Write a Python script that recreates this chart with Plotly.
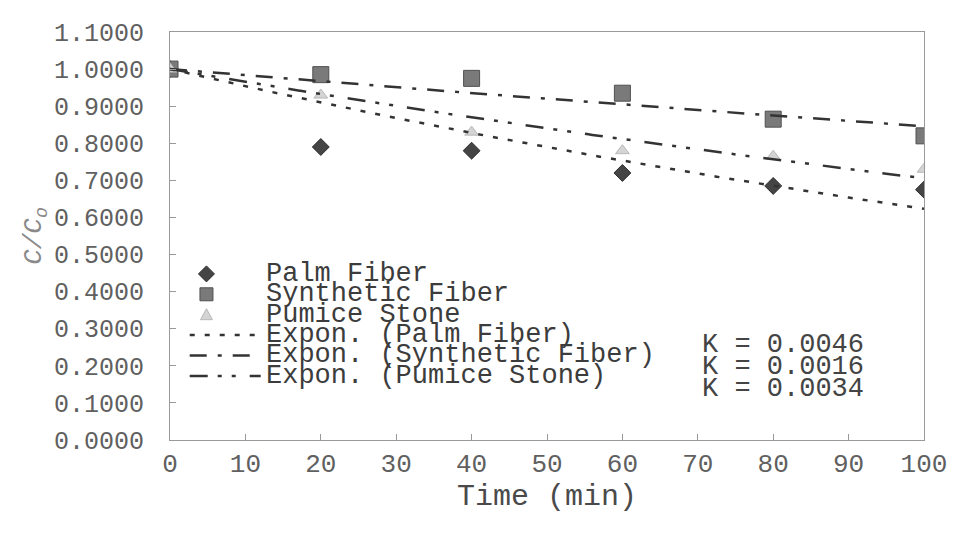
import numpy as np
import plotly.graph_objects as go

# ---------------- data ----------------
time_min = [0, 20, 40, 60, 80, 100]
palm_fiber = [1.0, 0.79, 0.78, 0.72, 0.685, 0.675]
synthetic_fiber = [1.0, 0.985, 0.975, 0.935, 0.865, 0.82]
pumice_stone = [1.0, 0.93, 0.83, 0.78, 0.765, 0.73]

series_names = ["Palm Fiber", "Synthetic Fiber", "Pumice Stone"]
trend_names = ["Expon. (Palm Fiber)", "Expon. (Synthetic Fiber)", "Expon. (Pumice Stone)"]
k_labels = ["K = 0.0046", "K = 0.0016", "K = 0.0034"]

x_ticks = [0, 10, 20, 30, 40, 50, 60, 70, 80, 90, 100]
y_ticks = [0.0, 0.1, 0.2, 0.3, 0.4, 0.5, 0.6, 0.7, 0.8, 0.9, 1.0, 1.1]
y_tick_labels = ["%.4f" % v for v in y_ticks]

# ---------------- styles ----------------
FONT = "Liberation Mono, Courier New, monospace"
LINE_COLOR = "#333333"
marker_styles = [
    dict(symbol="diamond", size=13, color="#454545", line=dict(color="#2e2e2e", width=1)),
    dict(symbol="square", size=16, color="#7a7a7a", line=dict(color="#505050", width=1)),
    dict(symbol="triangle-up", size=12, color="#d4d4d4", line=dict(color="#b8b8b8", width=1)),
]
dash_styles = ["5px,10px", "17px,11px,4px,11px", "18px,10px,4px,10px,4px,14px"]
key_paths = [
    "M 0,8 L 8,0 L 0,-8 L -8,0 Z",
    "M -6.5,-6.5 L 6.5,-6.5 L 6.5,6.5 L -6.5,6.5 Z",
    "M -6,-5 L 6,-5 L 0,6 Z",
]

series = [palm_fiber, synthetic_fiber, pumice_stone]

# exponential trend lines fitted with intercept fixed at 1 (Excel style)
t_arr = np.array(time_min, dtype=float)
t_fine = np.linspace(0, 100, 201)

fig = go.Figure()

for name, vals, ms in zip(series_names, series, marker_styles):
    fig.add_trace(go.Scatter(x=time_min, y=vals, mode="markers", name=name,
                             marker=ms, showlegend=False))

for name, vals, dash in zip(trend_names, series, dash_styles):
    k = -np.sum(t_arr * np.log(np.array(vals))) / np.sum(t_arr ** 2)
    fig.add_trace(go.Scatter(x=t_fine, y=np.exp(-k * t_fine), mode="lines", name=name,
                             line=dict(color=LINE_COLOR, width=2.5, dash=dash),
                             showlegend=False))

# ---------------- page geometry (browser body has an 8px margin) ----------------
BODY = 8
FIG_W, FIG_H = 967 - 2 * BODY, 545 - 2 * BODY
PLOT_L, PLOT_R, PLOT_T, PLOT_B = 170, 935, 20, 440   # page pixels


def xf(px):
    return (px - PLOT_L) / (PLOT_R - PLOT_L)


def yf(py):
    return (PLOT_B - py) / (PLOT_B - PLOT_T)


# ---------------- custom legend (layout decoration) ----------------
legend_labels = series_names + trend_names
row_y = [269 + 21 * i for i in range(6)]
k_row_y = [342 + 22.5 * i for i in range(3)]
shapes = []
annotations = []
for i, lab in enumerate(legend_labels):
    annotations.append(dict(x=xf(265), y=yf(row_y[i]), xref="paper", yref="paper",
                            text=lab, showarrow=False, xanchor="left", yanchor="middle",
                            font=dict(family=FONT, size=27, color="#3c3c3c")))
for i in range(3):
    ms = marker_styles[i]
    shapes.append(dict(type="path", xref="paper", yref="paper",
                       xsizemode="pixel", ysizemode="pixel",
                       xanchor=xf(207), yanchor=yf(row_y[i]),
                       path=key_paths[i], fillcolor=ms["color"],
                       line=dict(color=ms["line"]["color"], width=1)))
    shapes.append(dict(type="line", xref="paper", yref="paper",
                       x0=xf(190), x1=xf(262), y0=yf(row_y[i + 3]), y1=yf(row_y[i + 3]),
                       line=dict(color=LINE_COLOR, width=2.5, dash=dash_styles[i])))

for i, kl in enumerate(k_labels):
    annotations.append(dict(x=xf(708), y=yf(k_row_y[i]), xref="paper", yref="paper",
                            text=kl, showarrow=False, xanchor="left", yanchor="middle",
                            font=dict(family=FONT, size=27, color="#444444")))

fig.update_layout(
    width=FIG_W, height=FIG_H,
    margin=dict(l=PLOT_L - BODY, r=FIG_W - (PLOT_R - BODY), t=PLOT_T - BODY,
                b=FIG_H - (PLOT_B - BODY), pad=0),
    paper_bgcolor="white", plot_bgcolor="white",
    showlegend=False,
    shapes=shapes, annotations=annotations,
    font=dict(family=FONT, color="#555555"),
)
fig.update_xaxes(
    range=[0, 100], tickvals=x_ticks, ticktext=[str(v) for v in x_ticks],
    ticks="inside", ticklen=6, tickcolor="#999999",
    showline=True, linecolor="#9a9a9a", linewidth=1, mirror=True,
    showgrid=False, zeroline=False,
    tickfont=dict(family=FONT, size=26, color="#606060"),
    ticklabelstandoff=0, ticklabeloverflow="allow",
    title=dict(text="Time (min)", font=dict(family=FONT, size=30, color="#4a4a4a"), standoff=0),
)
fig.update_yaxes(
    range=[0, 1.1], tickvals=y_ticks, ticktext=y_tick_labels,
    ticks="inside", ticklen=6, tickcolor="#999999",
    showline=True, linecolor="#9a9a9a", linewidth=1, mirror=True,
    showgrid=False, zeroline=False,
    tickfont=dict(family=FONT, size=25, color="#606060"),
    ticklabelstandoff=20, ticklabeloverflow="allow",
    title=dict(text="<i>C/C<sub>o</sub></i>", font=dict(family=FONT, size=26, color="#8a8a8a"), standoff=4),
)

fig.write_html("out.html")
